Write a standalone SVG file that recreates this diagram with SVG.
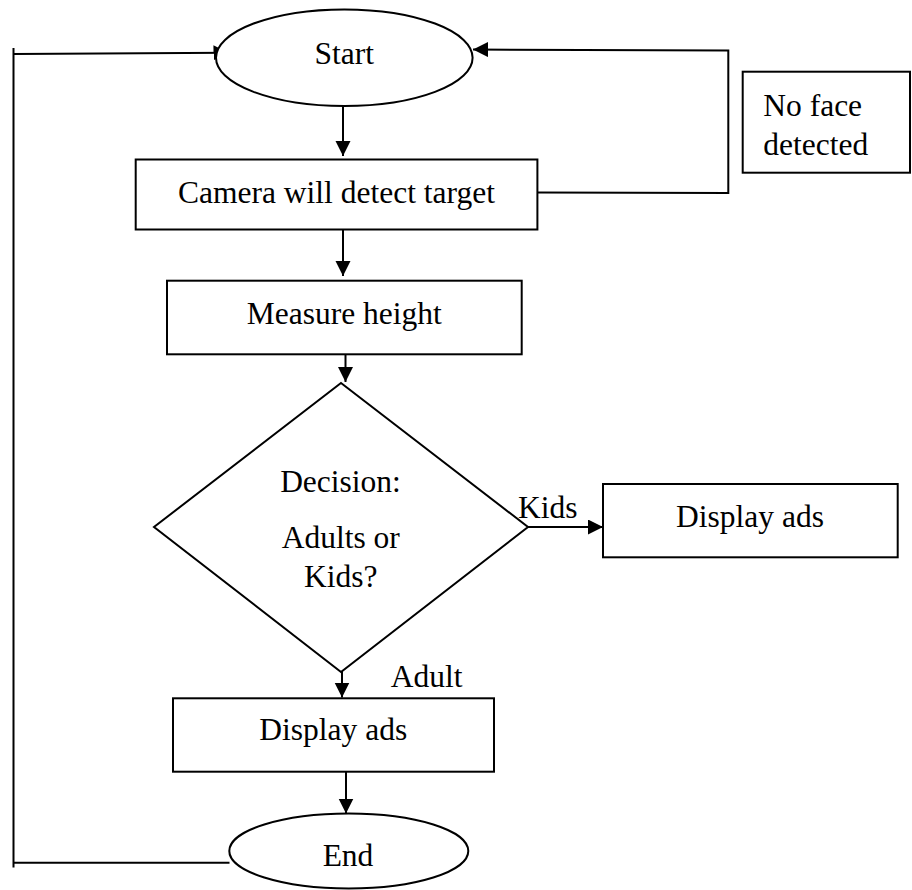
<svg xmlns="http://www.w3.org/2000/svg" width="912" height="890" viewBox="0 0 912 890">
<defs>
<style>
.shape{fill:#ffffff;stroke:#000000;stroke-width:2}
.line{fill:none;stroke:#000000;stroke-width:2}
.lbl{font-family:"Liberation Serif","Times New Roman",serif;font-size:31.5px;fill:#000000}
.c{text-anchor:middle}
</style>
<marker id="arr" markerUnits="userSpaceOnUse" markerWidth="16" markerHeight="16" refX="15" refY="7.5" orient="auto">
<path d="M0,0 L15,7.5 L0,15 z" fill="#000000"/>
</marker>
</defs>
<rect width="912" height="890" fill="#ffffff"/>
<g id="connectors">
<line class="line" x1="343" y1="106" x2="343" y2="156" marker-end="url(#arr)"/>
<line class="line" x1="343" y1="230" x2="343" y2="276" marker-end="url(#arr)"/>
<line class="line" x1="345.5" y1="354" x2="345.5" y2="382" marker-end="url(#arr)"/>
<line class="line" x1="528" y1="527" x2="603" y2="527" stroke-width="2.5" marker-end="url(#arr)"/>
<line class="line" x1="342" y1="663" x2="342" y2="697.5" marker-end="url(#arr)"/>
<line class="line" x1="346" y1="772" x2="346" y2="813.5" marker-end="url(#arr)"/>
<polyline class="line" points="537.5,192.5 728.3,193 728.3,50.5 473,49.5" marker-end="url(#arr)"/>
<line class="line" x1="13.5" y1="48" x2="13.5" y2="867.5"/>
<line class="line" x1="13.5" y1="862.7" x2="229.5" y2="862.7"/>
<line class="line" x1="13.5" y1="54" x2="228.5" y2="52.7" marker-end="url(#arr)"/>
</g>
<g id="start">
<ellipse class="shape" cx="344.3" cy="57.7" rx="128.3" ry="48.3"/>
<text class="lbl c" x="344.3" y="64">Start</text>
</g>
<g id="camera">
<rect class="shape" x="135.7" y="159.5" width="401.7" height="70"/>
<text class="lbl c" x="336.5" y="203">Camera will detect target</text>
</g>
<g id="noface">
<rect class="shape" x="742.7" y="71.7" width="167.3" height="101"/>
<text class="lbl" x="763.3" y="115.7">No face</text>
<text class="lbl" x="763.3" y="155">detected</text>
</g>
<g id="measure">
<rect class="shape" x="167" y="280.7" width="354.7" height="73.6"/>
<text class="lbl c" x="344.3" y="324">Measure height</text>
</g>
<g id="decision">
<polygon class="shape" points="341,383 528,527 341,672 154,527"/>
<text class="lbl c" x="340.5" y="491.7">Decision:</text>
<text class="lbl c" x="340.8" y="547.7">Adults or</text>
<text class="lbl c" x="340.8" y="587">Kids?</text>
</g>
<g id="label-kids">
<text class="lbl" x="518" y="518">Kids</text>
</g>
<g id="display-kids">
<rect class="shape" x="603" y="484" width="294.7" height="73.3"/>
<text class="lbl c" x="750" y="527.3">Display ads</text>
</g>
<g id="label-adult">
<text class="lbl" x="390.7" y="686.7">Adult</text>
</g>
<g id="display-adult">
<rect class="shape" x="173" y="698.3" width="321" height="73.4"/>
<text class="lbl c" x="333.3" y="740">Display ads</text>
</g>
<g id="end">
<ellipse class="shape" cx="348.8" cy="851" rx="119.5" ry="37.5"/>
<text class="lbl c" x="348" y="866">End</text>
</g>
</svg>
